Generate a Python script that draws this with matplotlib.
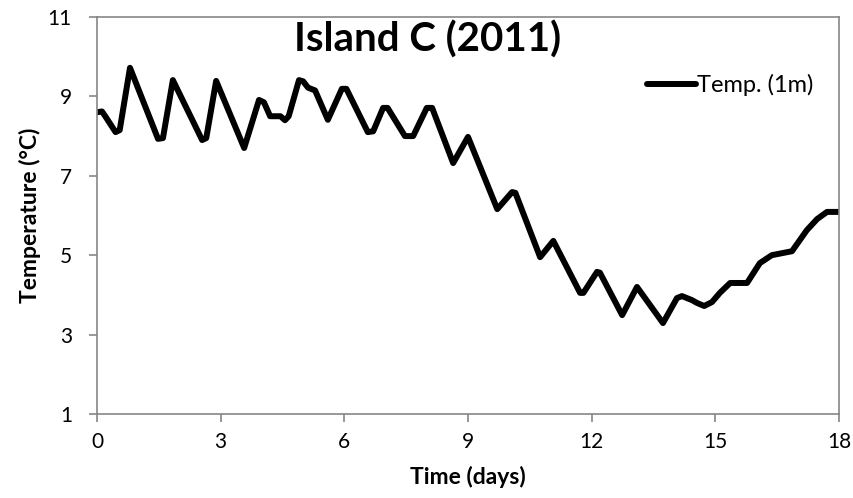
import numpy as np
import matplotlib.pyplot as plt

# temperature trace (days, deg C)
days = [0.00, 0.12, 0.20, 0.45, 0.55, 0.80, 1.48, 1.60, 1.84, 2.55, 2.65, 2.89,
        3.57, 3.93, 4.05, 4.20, 4.45, 4.56, 4.65, 4.90, 5.00, 5.12, 5.29, 5.60,
        5.94, 6.05, 6.57, 6.70, 6.94, 7.05, 7.47, 7.67, 8.00, 8.13, 8.64, 9.00,
        9.71, 10.07, 10.15, 10.75, 11.07, 11.72, 11.80, 12.13, 12.20, 12.74,
        13.10, 13.73, 14.07, 14.19, 14.43, 14.55, 14.73, 14.92, 15.11, 15.36,
        15.77, 16.08, 16.37, 16.86, 17.22, 17.47, 17.71, 18.00]
temp = [8.60, 8.62, 8.50, 8.10, 8.15, 9.72, 7.93, 7.95, 9.41, 7.90, 7.95, 9.39,
        7.70, 8.91, 8.85, 8.50, 8.50, 8.40, 8.50, 9.41, 9.38, 9.22, 9.15, 8.41,
        9.19, 9.19, 8.10, 8.12, 8.71, 8.71, 8.00, 8.00, 8.71, 8.71, 7.32, 7.98,
        6.16, 6.59, 6.57, 4.95, 5.36, 4.05, 4.05, 4.58, 4.56, 3.49,
        4.20, 3.29, 3.92, 3.97, 3.87, 3.80, 3.72, 3.82, 4.05, 4.30,
        4.30, 4.80, 5.00, 5.10, 5.63, 5.91, 6.09, 6.09]

xticks = [0, 3, 6, 9, 12, 15, 18]
yticks = [1, 3, 5, 7, 9, 11]

plt.rcParams['font.family'] = ['Lato', 'DejaVu Sans']

fig = plt.figure(figsize=(8.54, 4.98), dpi=100)
ax = fig.add_axes([0.1136, 0.1687, 0.8688, 0.7972])

ax.plot(days, temp, color='black', lw=4.3, solid_joinstyle='round',
        solid_capstyle='round', label='Temp. (1m)')

ax.set_xlim(0, 18)
ax.set_ylim(1, 11)
ax.set_xticks(xticks)
ax.set_yticks(yticks)
ax.tick_params(direction='out', length=6, width=1.2, color='#868686',
               labelsize=15)
ax.tick_params(axis='y', pad=12)
ax.tick_params(axis='x', pad=7)
for s in ax.spines.values():
    s.set_color('#868686')
    s.set_linewidth(1.2)

ax.set_xlabel('Time (days)', fontsize=16.5, fontweight='bold', labelpad=10)
ax.set_ylabel('Temperature (°C)', fontsize=16.5, fontweight='bold', labelpad=5)

ax.text(0.445, 0.944, 'Island C (2011)', transform=ax.transAxes,
        ha='center', va='center', fontsize=29, fontweight='bold')

ax.legend(loc='center right', bbox_to_anchor=(0.982, 0.829), frameon=False,
          fontsize=17, handlelength=2.1, handletextpad=0.05, borderpad=0)

fig.savefig('out.png', dpi=100)
